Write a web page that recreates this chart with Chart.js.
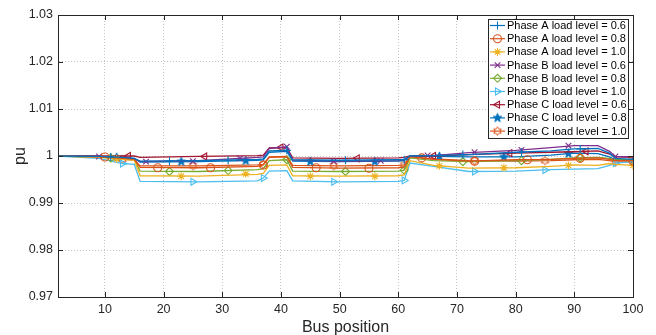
<!DOCTYPE html>
<html>
<head>
<meta charset="utf-8">
<script src="https://cdn.jsdelivr.net/npm/chart.js@4/dist/chart.umd.min.js"></script>
<style>
  html, body { margin: 0; padding: 0; background: #fff; }
  #chart { display: block; }
</style>
</head>
<body>
<canvas id="chart" width="656" height="335"></canvas>
<script>
// bus positions where the voltage profiles change slope
const BUS = [2, 9, 13, 15, 16, 26, 36, 37, 38, 41, 42, 50, 60, 61, 62, 66, 72, 80, 86, 90, 94, 96, 97, 100];

const phaseA06 = [1.0000, 0.9999, 0.9997, 0.9995, 0.9989, 0.9990, 0.9993, 0.9994, 1.0011, 1.0012, 0.9992, 0.9991, 0.9992, 0.9992, 1.0000, 1.0001, 1.0003, 1.0008, 1.0011, 1.0015, 1.0016, 1.0006, 0.9995, 0.9993];
const phaseA08 = [1.0000, 0.9998, 0.9995, 0.9993, 0.9976, 0.9975, 0.9978, 0.9981, 0.9997, 0.9998, 0.9976, 0.9974, 0.9975, 0.9977, 0.9998, 0.9993, 0.9989, 0.9992, 0.9993, 0.9995, 0.9996, 0.9993, 0.9990, 0.9990];
const phaseA10 = [1.0000, 0.9997, 0.9993, 0.9991, 0.9958, 0.9957, 0.9961, 0.9963, 0.9980, 0.9981, 0.9958, 0.9957, 0.9958, 0.9960, 0.9990, 0.9980, 0.9974, 0.9975, 0.9978, 0.9981, 0.9980, 0.9984, 0.9982, 0.9980];
const phaseB06 = [1.0000, 0.9999, 0.9996, 0.9994, 0.9988, 0.9990, 0.9997, 0.9998, 1.0016, 1.0020, 0.9991, 0.9989, 0.9990, 0.9991, 1.0000, 1.0001, 1.0007, 1.0012, 1.0018, 1.0022, 1.0022, 1.0010, 0.9999, 0.9998];
const phaseB08 = [1.0000, 0.9998, 0.9994, 0.9992, 0.9968, 0.9967, 0.9971, 0.9973, 0.9990, 0.9992, 0.9968, 0.9967, 0.9968, 0.9970, 0.9996, 0.9990, 0.9988, 0.9990, 0.9993, 0.9996, 0.9997, 0.9995, 0.9993, 0.9992];
const phaseB10 = [1.0000, 0.9995, 0.9984, 0.9982, 0.9946, 0.9945, 0.9947, 0.9953, 0.9968, 0.9969, 0.9947, 0.9945, 0.9946, 0.9948, 0.9985, 0.9978, 0.9967, 0.9968, 0.9971, 0.9972, 0.9973, 0.9980, 0.9985, 0.9988];
const phaseC06 = [1.0000, 1.0000, 1.0000, 1.0000, 0.9997, 0.9999, 1.0001, 1.0002, 1.0017, 1.0018, 0.9996, 0.9995, 0.9996, 0.9997, 1.0000, 1.0000, 1.0003, 1.0006, 1.0008, 1.0009, 1.0011, 1.0004, 0.9998, 0.9997];
const phaseC08 = [1.0000, 0.9999, 0.9997, 0.9995, 0.9987, 0.9988, 0.9991, 0.9992, 1.0008, 1.0010, 0.9989, 0.9988, 0.9989, 0.9990, 1.0000, 0.9999, 0.9998, 0.9998, 1.0002, 1.0006, 1.0005, 0.9998, 0.9992, 0.9990];
const phaseC10 = [1.0000, 0.9998, 0.9993, 0.9992, 0.9979, 0.9979, 0.9981, 0.9982, 0.9998, 0.9999, 0.9980, 0.9979, 0.9980, 0.9981, 0.9999, 0.9994, 0.9990, 0.9989, 0.9990, 0.9992, 0.9993, 0.9990, 0.9987, 0.9988];

// marker positions (bus) and the values read there
const markA06 = [11, 21, 31, 41, 51, 61, 71, 81, 91];
const markA06Val = [0.9998, 0.9989, 0.9991, 1.0012, 0.9991, 0.9992, 1.0003, 1.0008, 1.0015];
const markA08 = [10, 19, 28, 37, 46, 55, 64, 73, 82, 91, 100];
const markA08Val = [0.9998, 0.9975, 0.9975, 0.9981, 0.9975, 0.9974, 0.9996, 0.9989, 0.9992, 0.9995, 0.9990];
const markA10 = [12, 23, 34, 45, 56, 67, 78, 89, 100];
const markA10Val = [0.9994, 0.9957, 0.9962, 0.9957, 0.9957, 0.9979, 0.9975, 0.9980, 0.9980];
const markB06 = [9, 17, 25, 33, 41, 49, 57, 65, 73, 81, 89, 97];
const markB06Val = [0.9999, 0.9988, 0.9989, 0.9995, 1.0020, 0.9989, 0.9990, 1.0001, 1.0008, 1.0013, 1.0022, 0.9999];
const markB08 = [11, 21, 31, 41, 51, 61, 71, 81, 91];
const markB08Val = [0.9996, 0.9967, 0.9969, 0.9992, 0.9967, 0.9970, 0.9988, 0.9990, 0.9996];
const markB10 = [13, 25, 37, 49, 61, 73, 85, 97];
const markB10Val = [0.9984, 0.9945, 0.9953, 0.9945, 0.9948, 0.9967, 0.9970, 0.9985];
const markC06 = [14, 27, 40, 53, 66, 79, 92];
const markC06Val = [1.0000, 0.9999, 1.0018, 0.9995, 1.0000, 1.0006, 1.0010];
const markC08 = [12, 23, 34, 45, 56, 67, 78, 89, 100];
const markC08Val = [0.9997, 0.9988, 0.9990, 0.9988, 0.9988, 0.9999, 0.9998, 1.0005, 0.9990];
const markC10 = [13, 25, 37, 49, 61, 73, 85, 97];
const markC10Val = [0.9993, 0.9979, 0.9982, 0.9979, 0.9981, 0.9990, 0.9990, 0.9987];

const seriesNames = [
  'Phase A load level = 0.6', 'Phase A load level = 0.8', 'Phase A load level = 1.0',
  'Phase B load level = 0.6', 'Phase B load level = 0.8', 'Phase B load level = 1.0',
  'Phase C load level = 0.6', 'Phase C load level = 0.8', 'Phase C load level = 1.0'
];

const xTicks = [10, 20, 30, 40, 50, 60, 70, 80, 90, 100];
const yTicks = [0.97, 0.98, 0.99, 1.0, 1.01, 1.02, 1.03];
const yTickLabels = ['0.97', '0.98', '0.99', '1', '1.01', '1.02', '1.03'];

// small canvases for the pentagram / hexagram markers
function starMarker(color, n, outer, inner, fill) {
  const c = document.createElement('canvas');
  c.width = 11; c.height = 11;
  const g = c.getContext('2d');
  g.beginPath();
  for (let i = 0; i < n * 2; i++) {
    const r = i % 2 === 0 ? outer : inner;
    const a = -Math.PI / 2 + i * Math.PI / n;
    const px = 5.5 + r * Math.cos(a), py = 5.5 + r * Math.sin(a);
    if (i === 0) g.moveTo(px, py); else g.lineTo(px, py);
  }
  g.closePath();
  if (fill) { g.fillStyle = color; g.fill(); }
  g.strokeStyle = color;
  g.lineWidth = 1;
  g.stroke();
  return c;
}

const FONT = '"Liberation Sans", Arial, Helvetica, sans-serif';

const lineSeries = [phaseA06, phaseA08, phaseA10, phaseB06, phaseB08, phaseB10, phaseC06, phaseC08, phaseC10];
const markX = [markA06, markA08, markA10, markB06, markB08, markB10, markC06, markC08, markC10];
const markY = [markA06Val, markA08Val, markA10Val, markB06Val, markB08Val, markB10Val, markC06Val, markC08Val, markC10Val];
const colors = ['#0072BD', '#D95319', '#EDB120', '#7E2F8E', '#77AC30', '#4DBEEE', '#A2142F', '#0072BD', '#D95319'];
const markerStyles = [
  { style: 'cross', rot: 0 },
  { style: 'circle', rot: 0 },
  { style: 'star', rot: 0 },
  { style: 'crossRot', rot: 0 },
  { style: 'rectRot', rot: 0 },
  { style: 'triangle', rot: 90 },
  { style: 'triangle', rot: -90 },
  { style: starMarker('#0072BD', 5, 4.6, 1.9, true), rot: 0 },
  { style: starMarker('#D95319', 6, 4.3, 2.5, false), rot: 0 }
];

const datasets = [];
lineSeries.forEach((vals, i) => {
  datasets.push({
    label: seriesNames[i],
    data: BUS.map((b, k) => ({ x: b, y: vals[k] })),
    borderColor: colors[i],
    borderWidth: 1.3,
    pointRadius: 0,
    tension: 0
  });
  datasets.push({
    label: seriesNames[i] + ' markers',
    data: markX[i].map((b, k) => ({ x: b, y: markY[i][k] })),
    showLine: false,
    pointStyle: markerStyles[i].style,
    pointRotation: markerStyles[i].rot,
    pointRadius: 4,
    pointBorderWidth: 1.1,
    pointBorderColor: colors[i],
    pointBackgroundColor: 'rgba(0,0,0,0)'
  });
});

// axes frame, inward ticks, axis titles and the boxed legend
const framePlugin = {
  id: 'frame',
  afterDatasetsDraw(chart) {
    const { ctx, chartArea: a, scales } = chart;
    ctx.save();
    ctx.strokeStyle = '#262626';
    ctx.lineWidth = 1;
    ctx.strokeRect(Math.round(a.left) + 0.5, Math.round(a.top) + 0.5, Math.round(a.right - a.left), Math.round(a.bottom - a.top));
    ctx.beginPath();
    xTicks.forEach(v => {
      const px = Math.round(scales.x.getPixelForValue(v)) + 0.5;
      ctx.moveTo(px, a.bottom); ctx.lineTo(px, a.bottom - 5);
      ctx.moveTo(px, a.top); ctx.lineTo(px, a.top + 5);
    });
    yTicks.forEach(v => {
      const py = Math.round(scales.y.getPixelForValue(v)) + 0.5;
      ctx.moveTo(a.left, py); ctx.lineTo(a.left + 5, py);
      ctx.moveTo(a.right, py); ctx.lineTo(a.right - 5, py);
    });
    ctx.stroke();

    // axis titles
    ctx.fillStyle = '#262626';
    ctx.font = '16px ' + FONT;
    ctx.textAlign = 'center';
    ctx.textBaseline = 'alphabetic';
    ctx.fillText('Bus position', (a.left + a.right) / 2, 332);
    ctx.save();
    ctx.translate(25, scales.y.getPixelForValue(1.0));
    ctx.rotate(-Math.PI / 2);
    ctx.fillText('pu', 0, 0);
    ctx.restore();

    // legend
    const lx = 488, ly = 19, lw = 140, lh = 119;
    ctx.fillStyle = '#fff';
    ctx.fillRect(lx, ly, lw, lh);
    ctx.strokeStyle = '#262626';
    ctx.strokeRect(lx + 0.5, ly + 0.5, lw, lh);
    ctx.font = '11px ' + FONT;
    ctx.textAlign = 'left';
    ctx.textBaseline = 'middle';
    seriesNames.forEach((name, i) => {
      const y = 25.5 + i * 13.2;
      ctx.strokeStyle = colors[i];
      ctx.lineWidth = 1.2;
      ctx.beginPath();
      ctx.moveTo(490, y); ctx.lineTo(505, y);
      ctx.stroke();
      ctx.fillStyle = 'rgba(0,0,0,0)';
      ctx.lineWidth = 1.1;
      Chart.helpers.drawPoint(ctx, {
        pointStyle: markerStyles[i].style,
        rotation: markerStyles[i].rot,
        radius: 4,
        borderWidth: 1.1
      }, 497.5, y);
      ctx.fillStyle = '#000';
      ctx.fillText(name, 507, y + 0.5);
    });
    ctx.restore();
  }
};

new Chart(document.getElementById('chart').getContext('2d'), {
  type: 'line',
  data: { datasets: datasets },
  options: {
    responsive: false,
    animation: false,
    layout: { padding: { top: 15, right: 23, left: 0, bottom: 0 } },
    plugins: {
      legend: { display: false },
      title: { display: false },
      tooltip: { enabled: false }
    },
    scales: {
      x: {
        type: 'linear',
        min: 2,
        max: 100,
        afterFit: s => { s.height = 38; },
        afterBuildTicks: s => { s.ticks = xTicks.map(v => ({ value: v })); },
        ticks: {
          autoSkip: false,
          maxRotation: 0,
          padding: 5,
          color: '#262626',
          font: { family: FONT, size: 12.5 },
          callback: v => String(v)
        },
        grid: { color: '#c4c4c4', lineWidth: 1, drawTicks: false },
        border: { display: true, color: '#262626', width: 1, dash: [1, 2] }
      },
      y: {
        min: 0.97,
        max: 1.03,
        afterFit: s => { s.width = 58; },
        afterBuildTicks: s => { s.ticks = yTicks.map(v => ({ value: v })); },
        ticks: {
          autoSkip: false,
          padding: 5,
          color: '#262626',
          font: { family: FONT, size: 12.5 },
          callback: (v, idx) => yTickLabels[idx]
        },
        grid: { color: '#c4c4c4', lineWidth: 1, drawTicks: false },
        border: { display: true, color: '#262626', width: 1, dash: [1, 2] }
      }
    }
  },
  plugins: [framePlugin]
});
</script>
</body>
</html>
